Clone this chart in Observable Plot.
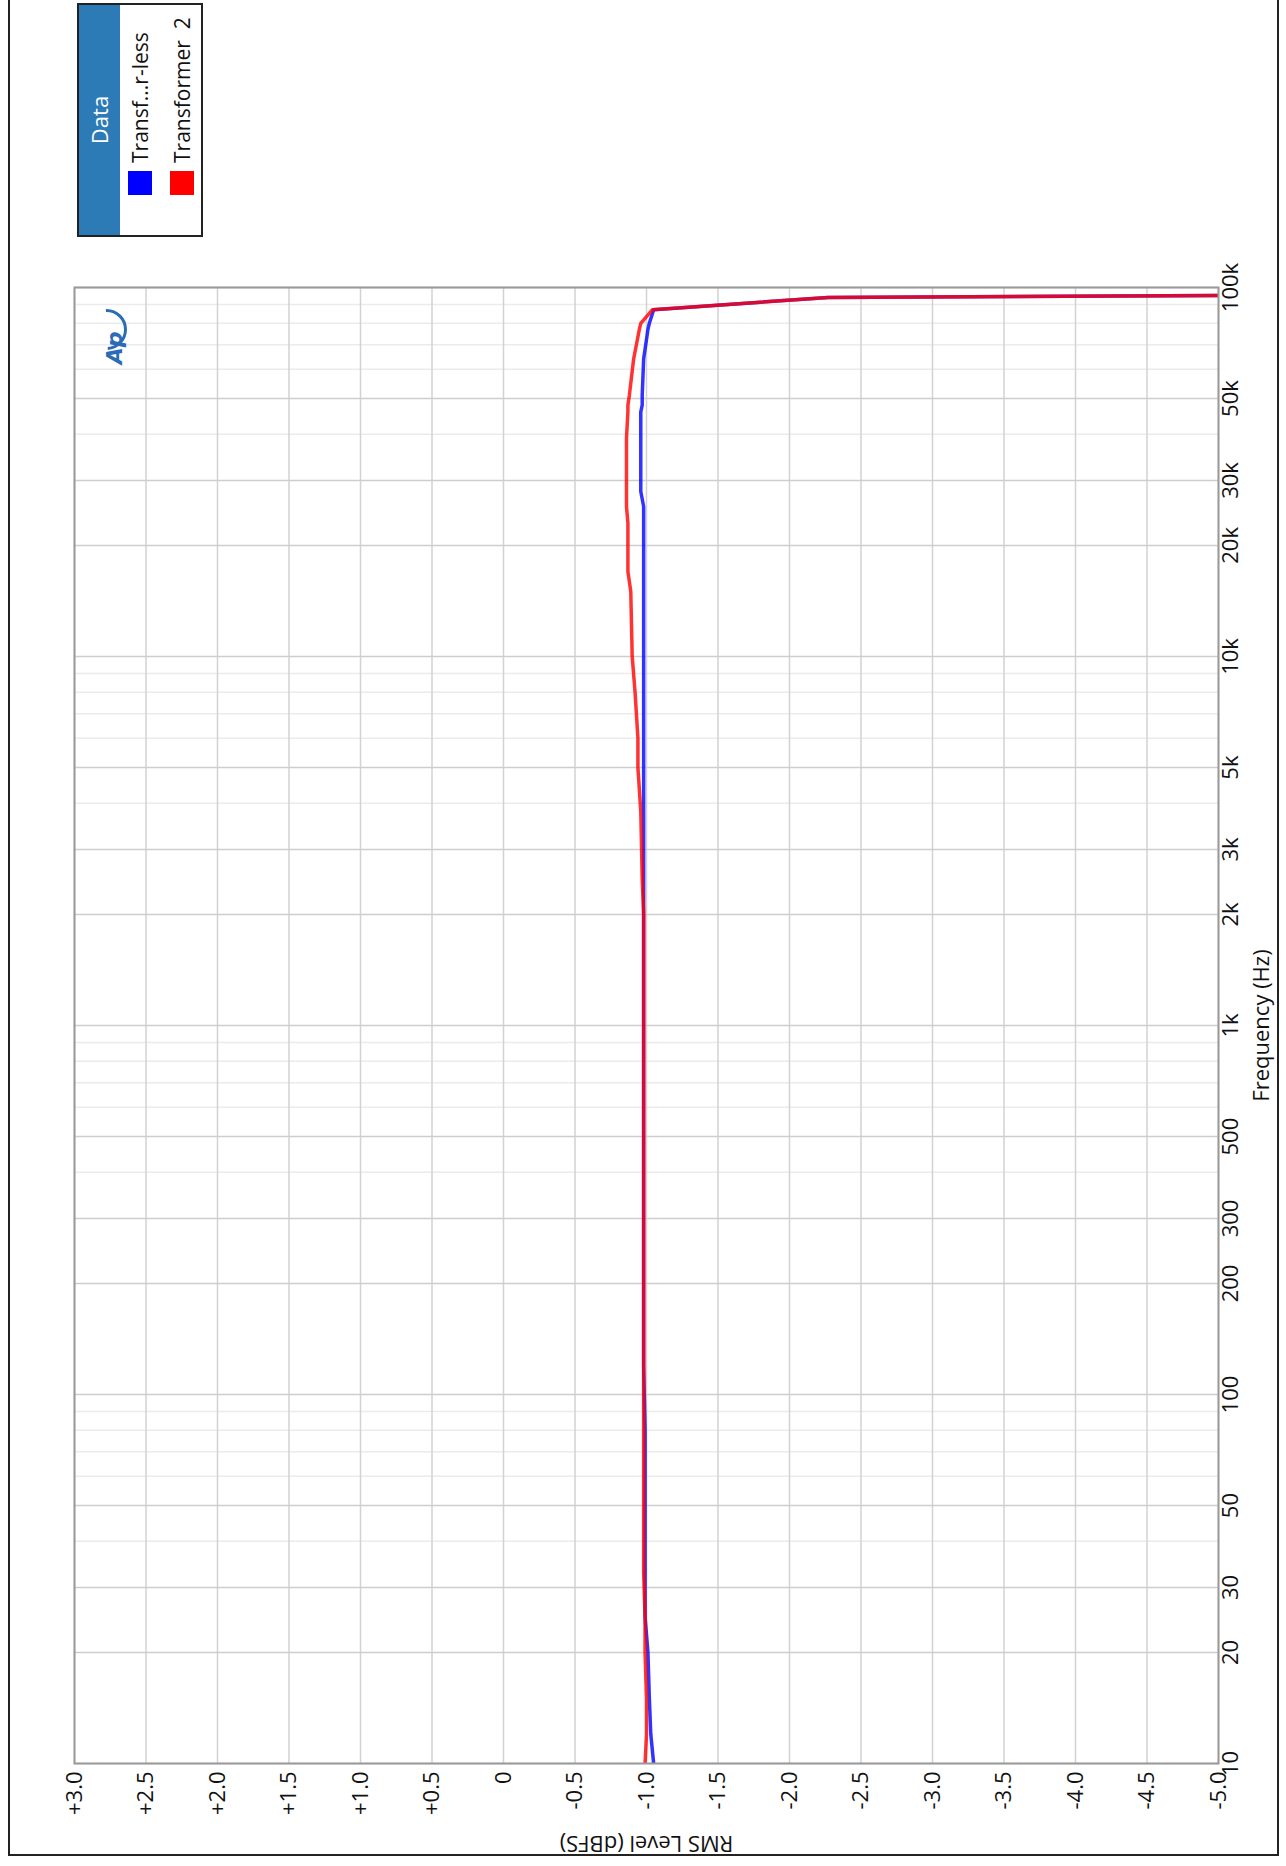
<!DOCTYPE html>
<html>
<head>
<meta charset="utf-8">
<script src="https://cdn.jsdelivr.net/npm/d3@7"></script>
<script src="https://cdn.jsdelivr.net/npm/@observablehq/plot@0.6"></script>
<style>
  html, body { margin: 0; padding: 0; background: #fff; overflow: hidden; }
  #wrap { position: absolute; left: 0; top: 0; width: 1866px; height: 1286px;
          transform-origin: 0 0; transform: translate(0px, 1866px) rotate(-90deg);
          font-family: "Open Sans", sans-serif; }
  #border { position: absolute; left: 10px; top: 8px; width: 1870px; height: 1271px;
            border: 2px solid #222; box-sizing: border-box; }
  #chart { position: absolute; left: 0; top: 0; }
  #legend { position: absolute; left: 1629px; top: 77px; width: 234px; height: 126px;
            border: 2px solid #222; box-sizing: border-box; background: #fff; }
  #legend .hdr { height: 41px; background: #2c7bb6; color: #fff; font-size: 22px;
                 text-align: center; line-height: 40px; }
  #legend .row { position: absolute; left: 40px; height: 26px; display: flex; align-items: center;
                 font-size: 21px; color: #111; white-space: pre; }
  #legend .sw { width: 24px; height: 24px; margin-right: 8px; }
</style>
</head>
<body>
<div id="wrap">
  <div id="border"></div>
  <div id="chart"></div>
  <div id="legend"></div>
</div>
<script>
// ---- data ----
const seriesNames = ["Transf...r-less", "Transformer  2"];
const seriesColors = ["#0000ff", "#ff0000"];
const freqHz = [10, 12, 15, 20, 25, 33, 50, 80, 120, 200, 500, 1000, 2000, 2500, 3800, 5000, 6000, 8000, 10000, 15000, 17000, 23000, 25500, 28000, 39000, 46000, 48000, 51000, 64000, 77000, 80000, 87000, 94000, 96000];
const levelTransformerless = [-1.05, -1.03, -1.02, -1.01, -0.99, -0.99, -0.99, -0.99, -0.98, -0.98, -0.98, -0.98, -0.98, -0.98, -0.98, -0.98, -0.98, -0.98, -0.98, -0.98, -0.98, -0.98, -0.98, -0.96, -0.96, -0.96, -0.97, -0.97, -0.98, -1.01, -1.02, -1.05, -2.27, -7.0];
const levelTransformer2 = [-0.99, -1.00, -1.00, -0.99, -0.99, -0.98, -0.98, -0.98, -0.98, -0.98, -0.98, -0.98, -0.98, -0.97, -0.96, -0.94, -0.94, -0.92, -0.90, -0.89, -0.87, -0.87, -0.86, -0.86, -0.86, -0.87, -0.87, -0.88, -0.91, -0.95, -0.96, -1.04, -2.27, -7.0];

const freqTicks = [10, 20, 30, 50, 100, 200, 300, 500, 1000, 2000, 3000, 5000, 10000, 20000, 30000, 50000, 100000];
const freqTickLabels = ["10", "20", "30", "50", "100", "200", "300", "500", "1k", "2k", "3k", "5k", "10k", "20k", "30k", "50k", "100k"];
const freqMinor = [40, 60, 70, 80, 90, 400, 600, 700, 800, 900, 4000, 6000, 7000, 8000, 9000, 40000, 60000, 70000, 80000, 90000];
const levelTicks = [3, 2.5, 2, 1.5, 1, 0.5, 0, -0.5, -1, -1.5, -2, -2.5, -3, -3.5, -4, -4.5, -5];
const levelTickLabels = ["+3.0", "+2.5", "+2.0", "+1.5", "+1.0", "+0.5", "0", "-0.5", "-1.0", "-1.5", "-2.0", "-2.5", "-3.0", "-3.5", "-4.0", "-4.5", "-5.0"];

const rows = [];
freqHz.forEach((f, i) => {
  rows.push({f, v: levelTransformerless[i], s: seriesNames[0]});
});
freqHz.forEach((f, i) => {
  rows.push({f, v: levelTransformer2[i], s: seriesNames[1]});
});

const chart = Plot.plot({
  width: 1866,
  height: 1286,
  marginLeft: 102,
  marginRight: 288,
  marginTop: 74,
  marginBottom: 68,
  style: {fontFamily: "'Open Sans', sans-serif", fontSize: "22px", background: "transparent", color: "#111"},
  x: {type: "log", domain: [10, 100000]},
  y: {domain: [-5, 3]},
  marks: [
    Plot.ruleX(freqMinor, {stroke: "#ebebeb", strokeWidth: 1.5}),
    Plot.ruleY(levelTicks, {stroke: "#d2d2d2", strokeWidth: 1.5}),
    Plot.ruleX(freqTicks, {stroke: "#cdcdcd", strokeWidth: 1.5}),
    Plot.line(rows.filter(d => d.s === seriesNames[0]), {x: "f", y: "v", stroke: seriesColors[0], strokeOpacity: 0.8, strokeWidth: 3.5, clip: true}),
    Plot.line(rows.filter(d => d.s === seriesNames[1]), {x: "f", y: "v", stroke: seriesColors[1], strokeOpacity: 0.8, strokeWidth: 3.5, clip: true}),
    Plot.frame({stroke: "#9a9a9a", strokeWidth: 2}),
    Plot.text(freqTicks, {x: d => d, text: (d, i) => freqTickLabels[i], frameAnchor: "bottom", lineAnchor: "top", dy: 4, fill: "#111"}),
    Plot.axisX({ticks: [], tickSize: 0,
      label: "Frequency (Hz)", labelAnchor: "center", labelArrow: "none", labelOffset: 50}),
    Plot.axisY({ticks: levelTicks, tickFormat: (d) => levelTickLabels[levelTicks.indexOf(d)], tickSize: 0, tickPadding: 8,
      label: "RMS Level (dBFS)", labelAnchor: "center", labelArrow: "none", labelOffset: 88}),
    Plot.text(["Ap"], {frameAnchor: "top-right", dx: -44, dy: 32, fill: "#2b6cb6", fontStyle: "italic", fontWeight: "bold", fontSize: 22, fontFamily: "'DejaVu Sans'"}),
    Plot.dot([0], {frameAnchor: "top-right", dx: -42, dy: 32, r: 19, fill: "none", stroke: "#2b6cb6", strokeWidth: 3, strokeDasharray: "62,60", strokeDashoffset: 4})
  ]
});
document.getElementById("chart").appendChild(chart);

// legend
const lg = document.getElementById("legend");
const hdr = document.createElement("div");
hdr.className = "hdr";
hdr.textContent = "Data";
lg.appendChild(hdr);
seriesNames.forEach((name, i) => {
  const r = document.createElement("div");
  r.className = "row";
  r.style.top = (48 + i * 42) + "px";
  const sw = document.createElement("span");
  sw.className = "sw";
  sw.style.background = seriesColors[i];
  r.appendChild(sw);
  const t = document.createElement("span");
  t.textContent = name;
  r.appendChild(t);
  lg.appendChild(r);
});
</script>
</body>
</html>
